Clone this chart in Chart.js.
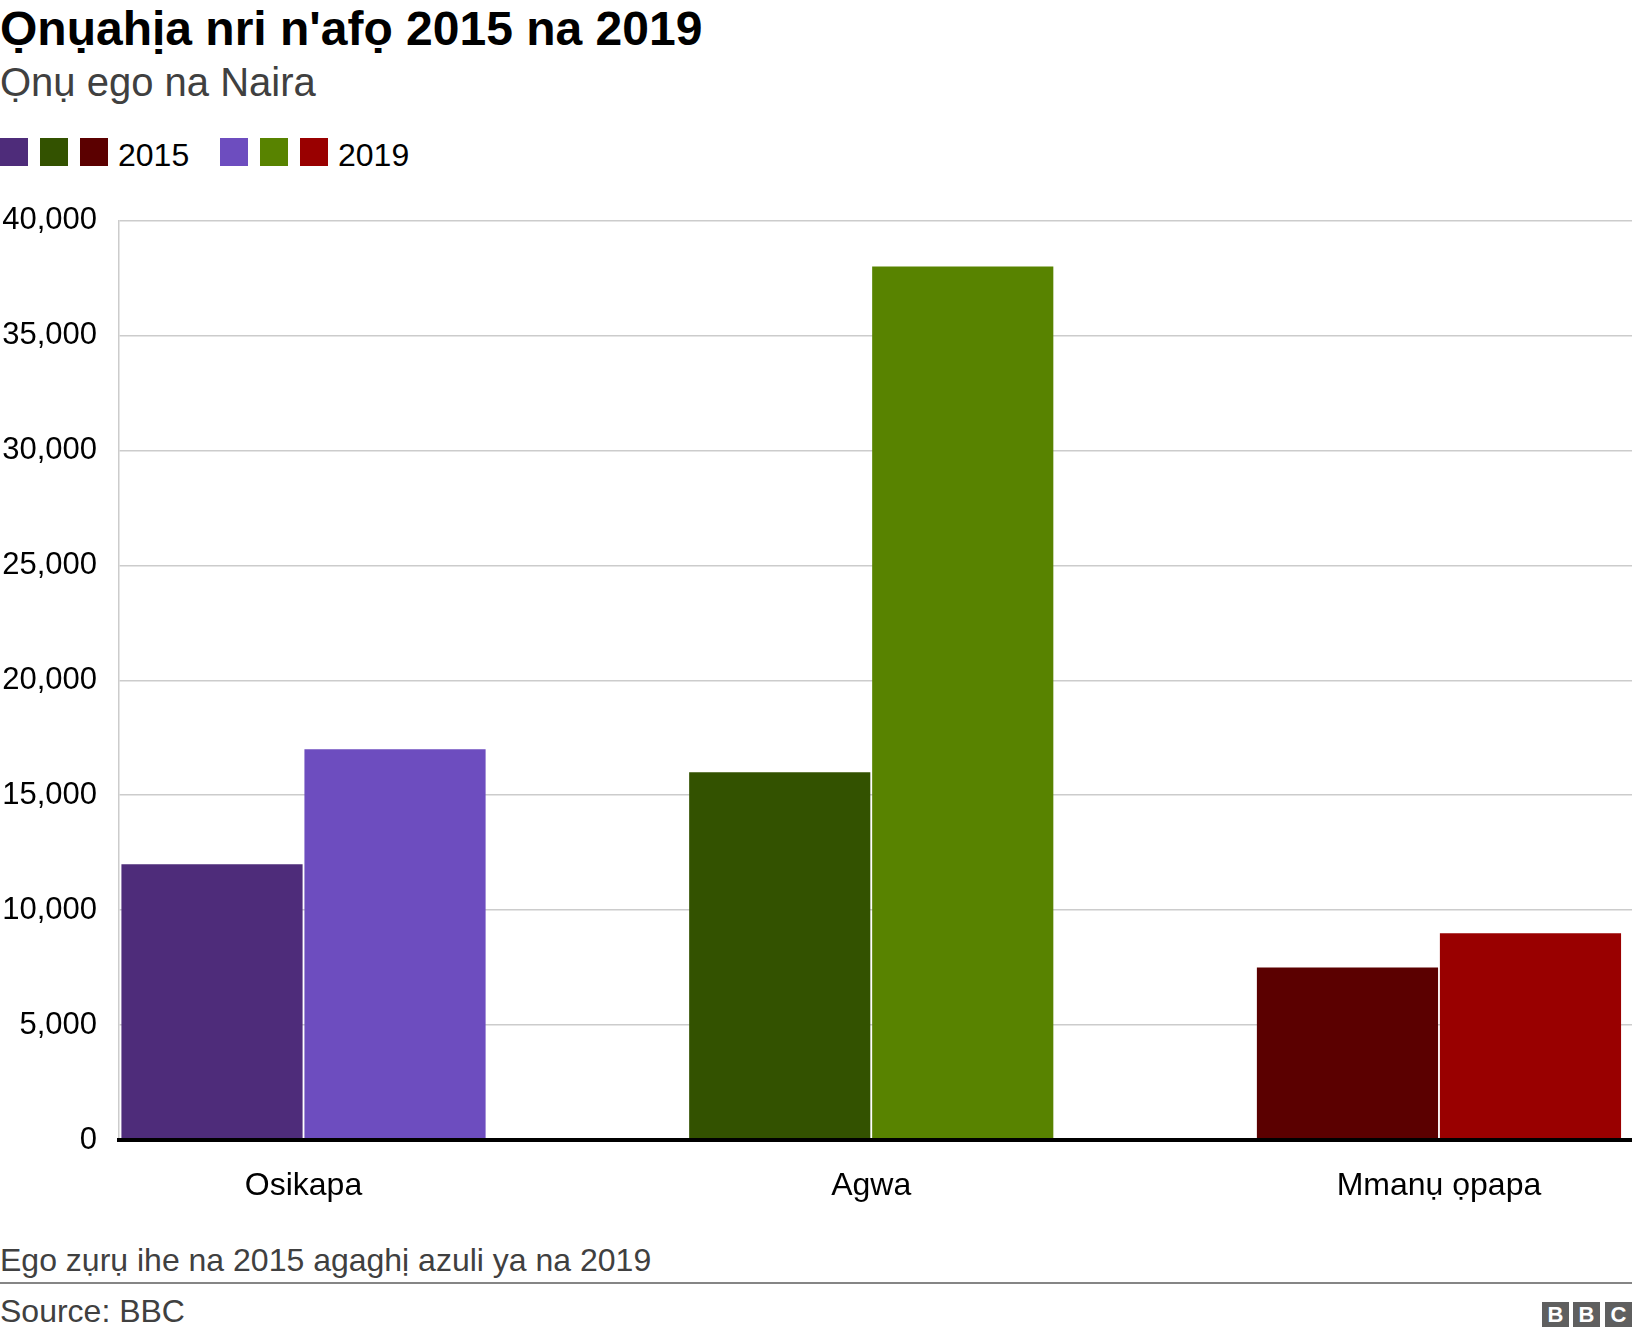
<!DOCTYPE html>
<html>
<head>
<meta charset="utf-8">
<script src="https://cdn.jsdelivr.net/npm/chart.js@4"></script>
<style>
  html, body { margin: 0; padding: 0; background: #ffffff; }
  body { width: 1632px; height: 1338px; position: relative; overflow: hidden; font-family: "Liberation Sans", Arial, Helvetica, sans-serif; }
  .t { position: absolute; left: 0; white-space: nowrap; }
  #title { top: 5px; font-size: 48px; line-height: 48px; font-weight: bold; color: #000; }
  #subtitle { top: 62px; font-size: 40px; line-height: 40px; color: #404040; }
  #legend { position: absolute; left: 0; top: 138px; height: 28px; }
  .sw { position: absolute; top: 0; width: 28px; height: 28px; }
  .lt { position: absolute; top: 0.5px; font-size: 32px; line-height: 32px; color: #000; white-space: nowrap; }
  #chartBox { position: absolute; left: 0; top: 180px; width: 1632px; height: 1040px; }
  #note { top: 1243.5px; font-size: 32px; line-height: 32px; color: #404040; }
  #sep { position: absolute; left: 0; top: 1282px; width: 1632px; height: 2px; background: #858585; }
  #source { top: 1294.5px; font-size: 32px; line-height: 32px; color: #404040; }
  #bbc { position: absolute; left: 1542px; top: 1302px; height: 25px; }
  .bb { position: absolute; top: 0; width: 27px; height: 25px; background: #5f5f5f; color: #fff; font-weight: bold; font-size: 22px; line-height: 25px; text-align: center; }
</style>
</head>
<body>
<div id="title" class="t">Ọnụahịa nri n'afọ 2015 na 2019</div>
<div id="subtitle" class="t">Ọnụ ego na Naira</div>
<div id="legend"></div>
<div id="chartBox"><canvas id="c"></canvas></div>
<div id="note" class="t">Ego zụrụ ihe na 2015 agaghị azuli ya na 2019</div>
<div id="sep"></div>
<div id="source" class="t">Source: BBC</div>
<div id="bbc"><div class="bb" style="left:0">B</div><div class="bb" style="left:31px">B</div><div class="bb" style="left:63px">C</div></div>
<script>
// ---- data ----
const categories = ['Osikapa', 'Agwa', 'Mmanụ ọpapa'];
const seriesNames = ['2015', '2019'];
const values2015 = [12000, 16000, 7500];
const values2019 = [17000, 38000, 9000];
const colors2015 = ['#4e2c7a', '#335200', '#5b0000'];
const colors2019 = ['#6d4dbf', '#588300', '#990000'];
const yTicks = [0, 5000, 10000, 15000, 20000, 25000, 30000, 35000, 40000];

// ---- legend (HTML) ----
const legend = document.getElementById('legend');
const legendGroups = [
  { colors: colors2015, label: seriesNames[0], x: 0 },
  { colors: colors2019, label: seriesNames[1], x: 220 }
];
legendGroups.forEach(g => {
  g.colors.forEach((col, i) => {
    const s = document.createElement('div');
    s.className = 'sw';
    s.style.left = (g.x + i * 40) + 'px';
    s.style.background = col;
    legend.appendChild(s);
  });
  const t = document.createElement('div');
  t.className = 'lt';
  t.style.left = (g.x + 118) + 'px';
  t.textContent = g.label;
  legend.appendChild(t);
});

// ---- chart ----
const toPoints = arr => arr.map((v, i) => ({ x: i, y: v }));
const PLOT_LEFT = 119;
const X_AXIS_H = 80;

new Chart(document.getElementById('c'), {
  type: 'bar',
  data: {
    datasets: [
      { label: seriesNames[0], data: toPoints(values2015), backgroundColor: colors2015, borderWidth: 0 },
      { label: seriesNames[1], data: toPoints(values2019), backgroundColor: colors2019, borderWidth: 0 }
    ]
  },
  options: {
    responsive: true,
    maintainAspectRatio: false,
    animation: false,
    devicePixelRatio: 1,
    layout: { padding: { top: 0, right: 0, left: 0, bottom: 0 } },
    categoryPercentage: 0.6447,
    barPercentage: 0.99,
    plugins: {
      legend: { display: false },
      title: { display: false },
      tooltip: { enabled: false }
    },
    scales: {
      x: {
        type: 'linear',
        min: -0.325,
        max: 2.34,
        offset: false,
        afterBuildTicks: scale => { scale.ticks = categories.map((c, i) => ({ value: i })); },
        afterFit: scale => { scale.height = X_AXIS_H; },
        grid: { display: false, drawTicks: false },
        border: { display: true, color: '#000000', width: 4, z: 1 },
        ticks: {
          padding: 27,
          color: '#000000',
          font: { family: '"Liberation Sans", Arial, sans-serif', size: 32 },
          maxRotation: 0,
          autoSkip: false,
          callback: v => categories[v] !== undefined ? categories[v] : ''
        }
      },
      y: {
        min: 0,
        max: 40000,
        afterBuildTicks: scale => { scale.ticks = yTicks.map(v => ({ value: v })); },
        afterFit: scale => { scale.width = PLOT_LEFT; },
        grid: { color: '#cccccc', lineWidth: 1.5, drawTicks: false },
        border: { display: true, color: '#cccccc', width: 1.5 },
        ticks: {
          padding: 22,
          color: '#000000',
          font: { family: '"Liberation Sans", Arial, sans-serif', size: 31 },
          callback: v => v.toLocaleString('en-US')
        }
      }
    }
  }
});
</script>
</body>
</html>
